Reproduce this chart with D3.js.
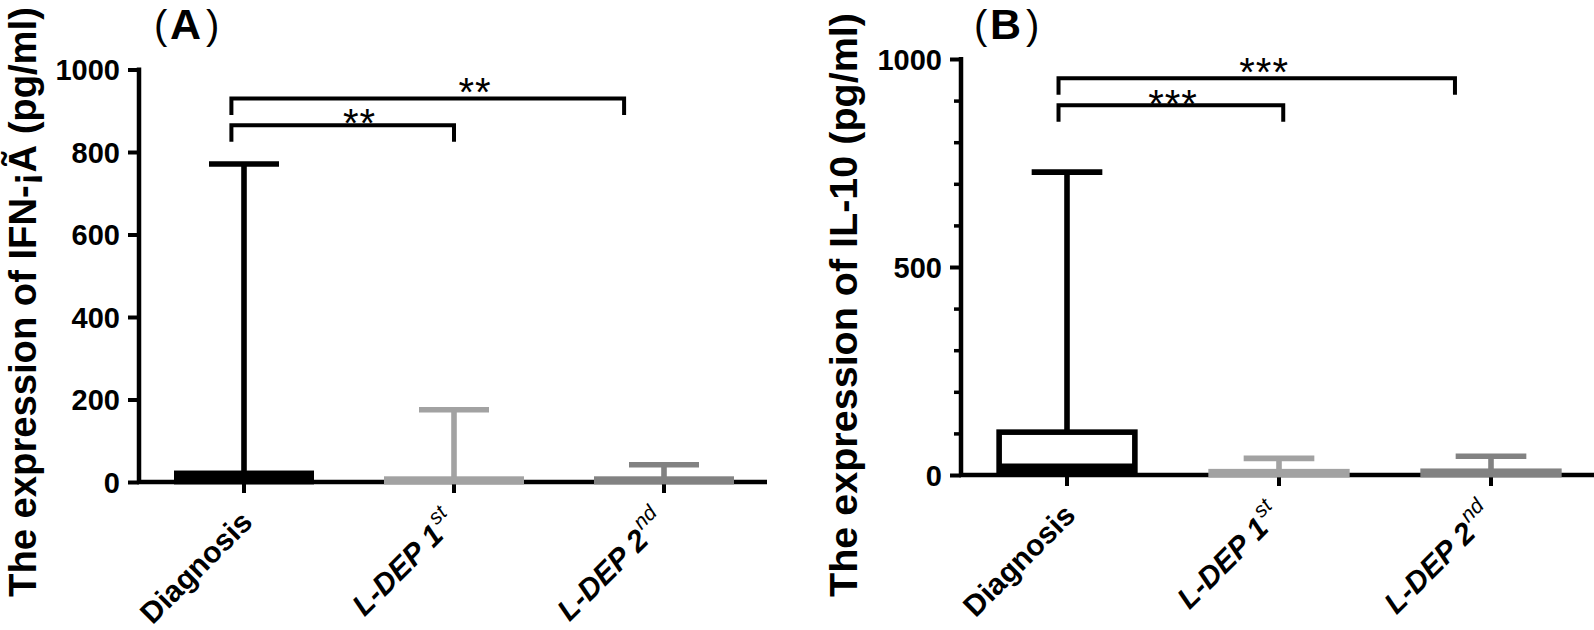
<!DOCTYPE html>
<html><head><meta charset="utf-8">
<script src="https://cdn.jsdelivr.net/npm/d3@7/dist/d3.min.js"></script>
<style>html,body{margin:0;padding:0;background:#fff;}svg{display:block;font-family:"Liberation Sans",Arial,sans-serif;}</style>
</head><body>
<svg id="chart" width="1594" height="630"></svg>
<script>
// ---------- data ----------
const categories = ["Diagnosis", "L-DEP 1", "L-DEP 2"];
const categorySup = ["", "st", "nd"];
const categoryItalic = [false, true, true];
const categoryColors = ["#000000", "#a2a2a2", "#828282"];

// Panel A: IFN
const ifnMin = [0, 0, 0];
const ifnQ1 = [1, 1, 1];
const ifnMedian = [10, 3, 3];
const ifnQ3 = [21, 7, 7];
const ifnMax = [771, 175, 42];
const ifnTicks = [0, 200, 400, 600, 800, 1000];
const ifnBracketFrom = [-0.06, -0.06];
const ifnBracketTo = [1.0, 1.81];
const ifnBracketY = [865, 930];
const ifnStarX = [0.55, 1.1];
const ifnStarY = [892, 967];
const ifnStars = ["**", "**"];

// Panel B: IL-10
const il10Min = [3, 0, 0];
const il10Q1 = [9, 1, 1];
const il10Median = [21, 3, 3];
const il10Q3 = [103, 8, 9];
const il10Max = [728, 40, 45];
const il10Ticks = [0, 500, 1000];
const il10MinorTicks = [100, 200, 300, 400, 600, 700, 800, 900];
const il10BracketFrom = [-0.04, -0.04];
const il10BracketTo = [1.02, 1.83];
const il10BracketY = [889, 954];
const il10StarX = [0.5, 0.93];
const il10StarY = [913, 991];
const il10Stars = ["***", "***"];

const svg = d3.select("#chart");
const SW = 5.6;
const STAR_FS = 40;

function drawPanel(p) {
  const g = svg.append("g");
  const x = d3.scaleBand().domain(categories).range(p.xRange).paddingInner(0).paddingOuter(0);
  const y = d3.scaleLinear().domain([0, 1000]).range(p.yRange);
  const bw = x.bandwidth();
  const cx = i => x(categories[i]) + bw / 2;
  const cpos = d3.scaleLinear().domain([0, 1]).range([cx(0), cx(1)]);

  // y axis
  const ya = g.append("g").attr("transform", `translate(${p.xRange[0]},0)`)
    .call(d3.axisLeft(y).tickValues(p.ticks).tickFormat(d3.format("d")).tickSize(11).tickSizeOuter(0).tickPadding(8));
  ya.select(".domain").attr("stroke-width", 4.5).attr("d", `M0,${y(0)+2}V${y(1000)-2}`);
  ya.selectAll(".tick line").attr("stroke-width", 4);
  ya.selectAll(".tick text").attr("font-size", 29).attr("font-weight", "bold")
    .attr("font-family", "'Liberation Sans', Arial, sans-serif").attr("fill", "#000").attr("dy", "0.36em");
  if (p.minor) {
    const ym = g.append("g").attr("transform", `translate(${p.xRange[0]},0)`)
      .call(d3.axisLeft(y).tickValues(p.minor).tickSize(7).tickFormat(""));
    ym.select(".domain").remove();
    ym.selectAll(".tick line").attr("stroke-width", 3.5);
  }
  // x axis
  const xa = g.append("g").attr("transform", `translate(0,${y(0)})`)
    .call(d3.axisBottom(x).tickSize(11).tickSizeOuter(0).tickFormat(""));
  xa.select(".domain").attr("stroke-width", 4.5).attr("d", `M${p.xRange[0]-2},0H${p.xEnd}`);
  xa.selectAll(".tick line").attr("stroke-width", 4);

  // x labels
  categories.forEach((c, i) => {
    const t = g.append("text")
      .attr("transform", `translate(${cx(i) + p.labDx[i]},${y(0) + p.labDy}) rotate(-45)`)
      .attr("text-anchor", "end").attr("font-size", 30).attr("font-weight", "bold")
      .attr("font-style", categoryItalic[i] ? "italic" : "normal");
    t.append("tspan").text(c);
    if (categorySup[i]) {
      t.append("tspan").text(categorySup[i]).attr("font-size", 21).attr("font-weight", "normal")
        .attr("dy", -14).attr("dx", 2);
    }
  });

  // boxes
  categories.forEach((c, i) => {
    const col = categoryColors[i];
    const x0 = cx(i) - bw / 3 + SW / 2, w = bw * 2 / 3 - SW;
    const capW = bw / 3;
    const d = p.data;
    g.append("line").attr("x1", cx(i)).attr("x2", cx(i)).attr("y1", y(d.q3[i])).attr("y2", y(d.max[i]))
      .attr("stroke", col).attr("stroke-width", SW);
    g.append("line").attr("x1", cx(i)).attr("x2", cx(i)).attr("y1", y(d.q1[i])).attr("y2", y(d.min[i]))
      .attr("stroke", col).attr("stroke-width", SW);
    g.append("line").attr("x1", cx(i) - capW / 2).attr("x2", cx(i) + capW / 2).attr("y1", y(d.max[i])).attr("y2", y(d.max[i]))
      .attr("stroke", col).attr("stroke-width", SW);
    g.append("line").attr("x1", cx(i) - capW / 2).attr("x2", cx(i) + capW / 2).attr("y1", y(d.min[i])).attr("y2", y(d.min[i]))
      .attr("stroke", col).attr("stroke-width", SW * 0.6);
    const hgt = y(d.q1[i]) - y(d.q3[i]);
    g.append("rect").attr("x", x0).attr("width", w).attr("y", y(d.q3[i])).attr("height", hgt)
      .attr("fill", hgt > 3 * SW ? "#fff" : col).attr("stroke", col).attr("stroke-width", SW);
    g.append("line").attr("x1", x0).attr("x2", x0 + w).attr("y1", y(d.median[i])).attr("y2", y(d.median[i]))
      .attr("stroke", col).attr("stroke-width", SW);
  });

  // brackets
  p.br.from.forEach((f, k) => {
    const xa0 = cpos(f), xa1 = cpos(p.br.to[k]);
    const yy = y(p.br.y[k]), yl = y(p.br.y[k] - 40);
    g.append("path").attr("d", `M${xa0},${yl}V${yy}H${xa1}V${yl}`)
      .attr("fill", "none").attr("stroke", "#000").attr("stroke-width", 4);
    g.append("text").attr("x", cpos(p.br.sx[k])).attr("y", y(p.br.sy[k]) + 0.575 * STAR_FS)
      .attr("text-anchor", "middle").attr("font-size", STAR_FS).attr("letter-spacing", 1).text(p.br.txt[k]);
  });

  // y title, fitted to its length in the reference
  const tt = g.append("text").attr("transform", `translate(${p.titleX},${p.titleY}) rotate(-90)`)
    .attr("text-anchor", "middle").attr("font-size", 33).attr("font-weight", "bold").text(p.title);
  const len = tt.node().getComputedTextLength();
  tt.attr("font-size", 33 * p.titleLen / len);

  // panel letter
  const L = g.append("text").attr("y", 39).attr("font-size", 40);
  L.append("tspan").attr("x", p.letterX).text("(");
  L.append("tspan").attr("x", p.letterX + 16).attr("font-weight", "bold").attr("font-size", 43).text(p.letter);
  L.append("tspan").attr("x", p.letterX + 52).text(")");
}

drawPanel({
  xRange: [139, 769], xEnd: 767, yRange: [482, 69.5], ticks: ifnTicks, minor: null,
  data: { min: ifnMin, q1: ifnQ1, median: ifnMedian, q3: ifnQ3, max: ifnMax },
  br: { from: ifnBracketFrom, to: ifnBracketTo, y: ifnBracketY, sx: ifnStarX, sy: ifnStarY, txt: ifnStars },
  labDx: [10, 4, 4], labDy: 42,
  title: "The expression of IFN-¡Ã (pg/ml)", titleX: 36, titleY: 302, titleLen: 590,
  letter: "A", letterX: 154
});
drawPanel({
  xRange: [961, 1597], xEnd: 1594, yRange: [475, 59], ticks: il10Ticks, minor: il10MinorTicks,
  data: { min: il10Min, q1: il10Q1, median: il10Median, q3: il10Q3, max: il10Max },
  br: { from: il10BracketFrom, to: il10BracketTo, y: il10BracketY, sx: il10StarX, sy: il10StarY, txt: il10Stars },
  labDx: [10, 4, 4], labDy: 42,
  title: "The expression of IL-10 (pg/ml)", titleX: 857, titleY: 305, titleLen: 584,
  letter: "B", letterX: 974
});
</script>
</body></html>
